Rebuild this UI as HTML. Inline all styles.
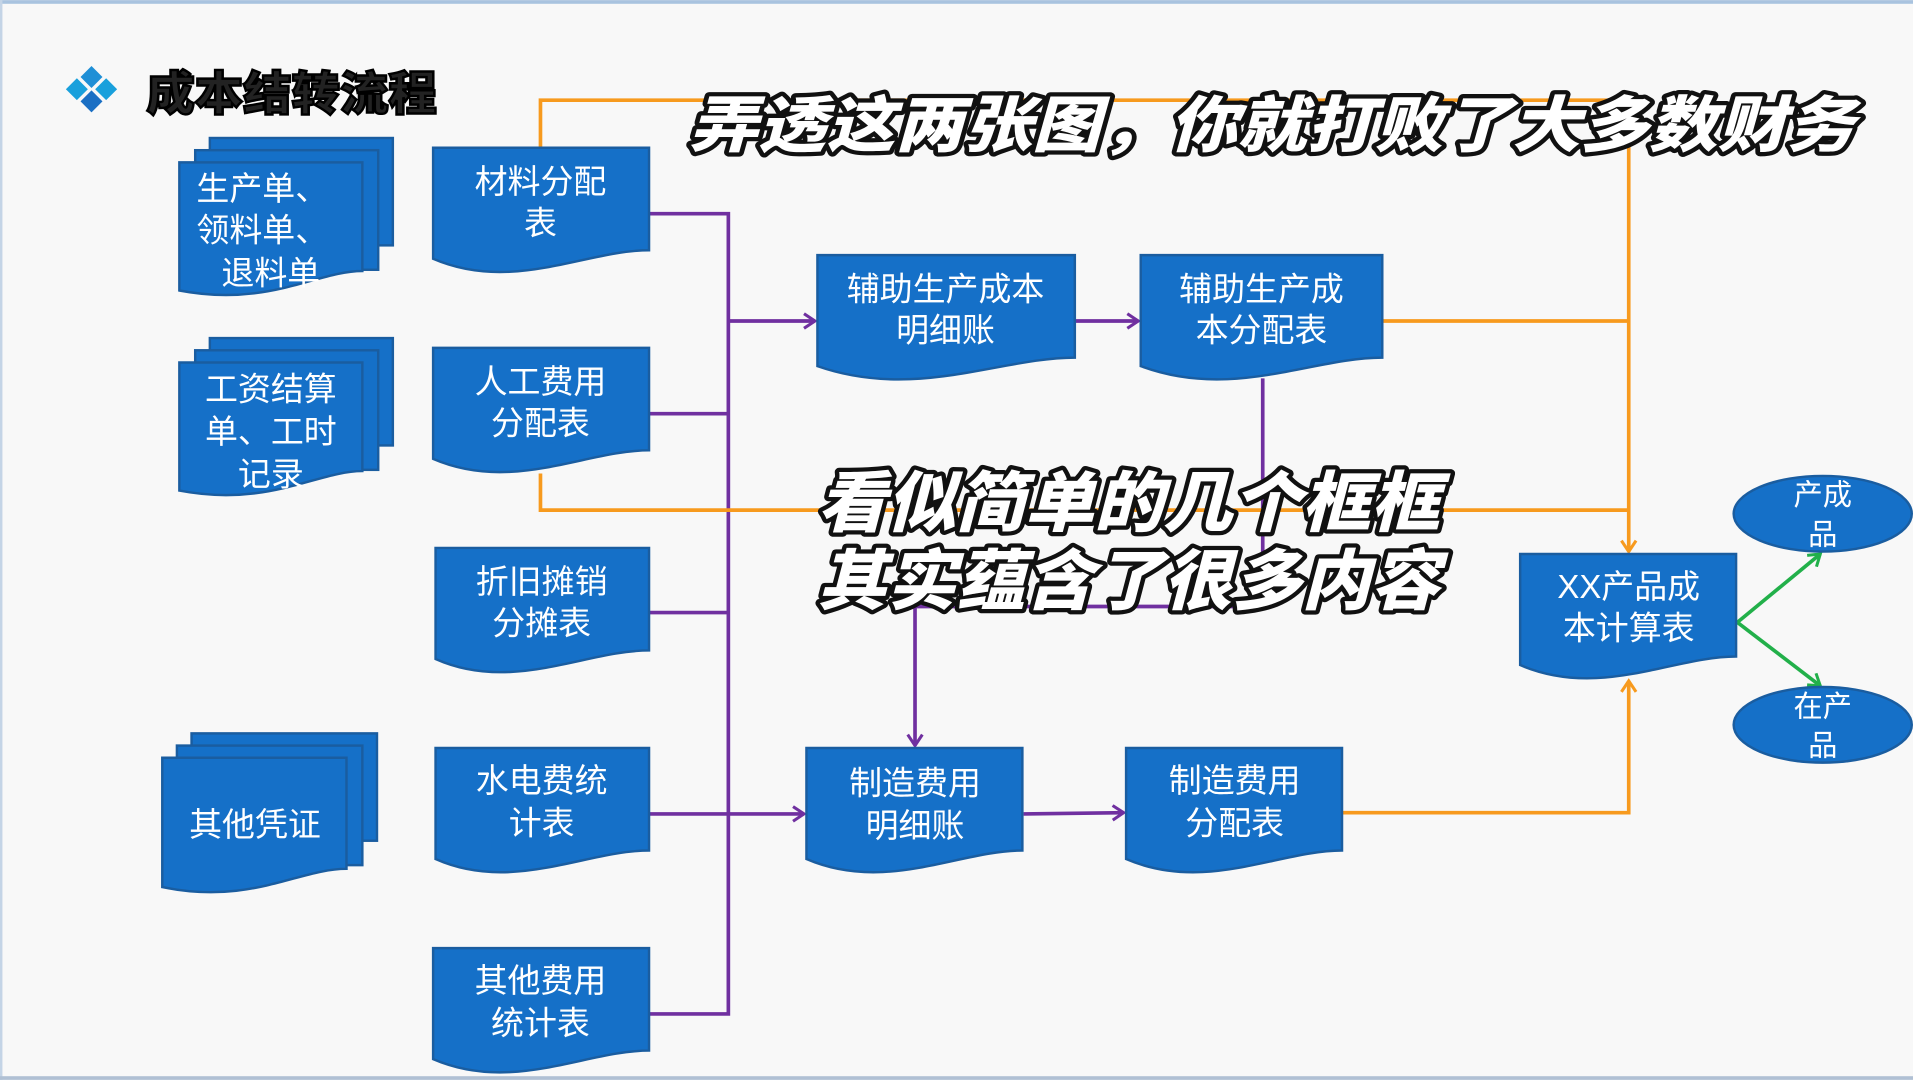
<!DOCTYPE html>
<html><head><meta charset="utf-8"><style>
html,body{margin:0;padding:0;background:#f8f8f8;overflow:hidden}
svg{display:block}
.t{font-family:"Liberation Sans","Noto Sans CJK SC",sans-serif;fill:#fff;font-size:27px;text-anchor:middle}
.o{font-family:"Liberation Sans","Noto Sans CJK SC",sans-serif;font-weight:900;font-style:italic;fill:#fff;stroke:#111;stroke-width:7;paint-order:stroke;stroke-linejoin:round}
</style></head><body>
<svg width="1913" height="1080" viewBox="0 0 1568 885" xmlns="http://www.w3.org/2000/svg">
<defs>
<marker id="ap" markerWidth="14" markerHeight="14" refX="11" refY="7" orient="auto" markerUnits="userSpaceOnUse"><polyline points="2,1 11,7 2,13" fill="none" stroke="#7030a0" stroke-width="2.5"/></marker>
<marker id="ao" markerWidth="14" markerHeight="14" refX="11" refY="7" orient="auto" markerUnits="userSpaceOnUse"><polyline points="2,1 11,7 2,13" fill="none" stroke="#f79a1e" stroke-width="2.5"/></marker>
<marker id="ag" markerWidth="14" markerHeight="14" refX="11" refY="7" orient="auto" markerUnits="userSpaceOnUse"><polyline points="2,1 11,7 2,13" fill="none" stroke="#22b04a" stroke-width="2.5"/></marker>
</defs>
<rect width="1568" height="885" fill="#f8f8f8"/>
<rect x="0" y="0" width="1568" height="3" fill="#a9c3df"/>
<rect x="0" y="0" width="2" height="885" fill="#c4d4e6"/>
<rect x="0" y="882" width="1568" height="3" fill="#b0c0d4"/>

<!-- title -->
<g><path d="M75 54 L84 63 L75 72 L66 63Z" fill="#1f8fd6"/><path d="M63 64 L72 73 L63 82 L54 73Z" fill="#19a0dc"/><path d="M87 64 L96 73 L87 82 L78 73Z" fill="#19a0dc"/><path d="M75 74 L84 83 L75 92 L66 83Z" fill="#1a6fc4"/></g>
<text x="120" y="90" font-family="'Liberation Sans','Noto Sans CJK SC',sans-serif" font-weight="900" font-size="38" fill="#222" stroke="#000" stroke-width="2" textLength="238" lengthAdjust="spacingAndGlyphs">成本结转流程</text>

<!-- connectors -->
<g fill="none" stroke-width="3">
<path d="M532 175 H597 V831 H532" stroke="#7030a0"/>
<path d="M532 339 H597 M532 502 H597" stroke="#7030a0"/>
<path d="M597 263 H668" stroke="#7030a0" marker-end="url(#ap)"/>
<path d="M532 667 H659" stroke="#7030a0" marker-end="url(#ap)"/>
<path d="M881 263 H933" stroke="#7030a0" marker-end="url(#ap)"/>
<path d="M839 667 L921 666" stroke="#7030a0" marker-end="url(#ap)"/>
<path d="M1035 310 V497 H750 V611" stroke="#7030a0" marker-end="url(#ap)"/>
<path d="M443 121 V82 H1335 V452" stroke="#f79a1e" marker-end="url(#ao)"/>
<path d="M1133 263 H1335 M443 388 V418 H1335" stroke="#f79a1e"/>
<path d="M1100 666 H1335 V558" stroke="#f79a1e" marker-end="url(#ao)"/>
<path d="M1424 510 L1492 454" stroke="#22b04a" marker-end="url(#ag)"/>
<path d="M1424 510 L1492 562" stroke="#22b04a" marker-end="url(#ag)"/>
</g>

<!-- documents -->
<g fill="#1570c8" stroke="#1a5da0" stroke-width="2">
<rect x="172" y="113" width="150" height="88"/>
<rect x="160" y="123" width="150" height="98"/>
<path d="M147 133 H297 V222 C260 222 220 252 147 238 Z"/>
<rect x="172" y="277" width="150" height="88"/>
<rect x="160" y="287" width="150" height="98"/>
<path d="M147 297 H297 V386 C260 386 220 416 147 402 Z"/>
<rect x="157" y="601" width="152" height="88"/>
<rect x="145" y="611" width="152" height="98"/>
<path d="M133 621 H284 V712 C245 712 205 742 133 727 Z"/>

<path d="M355 121 H532 V205 C480 205 420 240 355 212 Z"/>
<path d="M355 285 H532 V369 C480 369 420 404 355 376 Z"/>
<path d="M357 449 H532 V533 C480 533 420 568 357 540 Z"/>
<path d="M357 613 H532 V697 C480 697 420 732 357 704 Z"/>
<path d="M355 777 H532 V861 C480 861 420 896 355 868 Z"/>
<path d="M670 209 H881 V293 C820 293 750 328 670 300 Z"/>
<path d="M935 209 H1133 V293 C1075 293 1010 328 935 300 Z"/>
<path d="M661 613 H838 V697 C786 697 726 732 661 704 Z"/>
<path d="M923 613 H1100 V697 C1048 697 988 732 923 704 Z"/>
<path d="M1246 454 H1423 V538 C1371 538 1311 573 1246 545 Z"/>
<ellipse cx="1494" cy="421" rx="73" ry="31"/>
<ellipse cx="1494" cy="594" rx="73" ry="31"/>
</g>

<g class="t">
<text x="215" y="164">生产单、</text><text x="215" y="198">领料单、</text><text x="222" y="233">退料单</text>
<text x="222" y="328">工资结算</text><text x="222" y="363">单、工时</text><text x="222" y="398">记录</text>
<text x="209" y="685">其他凭证</text>
<text x="443" y="158">材料分配</text><text x="443" y="192">表</text>
<text x="443" y="322">人工费用</text><text x="443" y="356">分配表</text>
<text x="444" y="486">折旧摊销</text><text x="444" y="520">分摊表</text>
<text x="444" y="649">水电费统</text><text x="444" y="684">计表</text>
<text x="443" y="813">其他费用</text><text x="443" y="848">统计表</text>
<text x="775" y="246">辅助生产成本</text><text x="775" y="280">明细账</text>
<text x="1034" y="246">辅助生产成</text><text x="1034" y="280">本分配表</text>
<text x="750" y="651">制造费用</text><text x="750" y="686">明细账</text>
<text x="1012" y="649">制造费用</text><text x="1012" y="684">分配表</text>
<text x="1335" y="490">XX产品成</text><text x="1335" y="524">本计算表</text>
<text x="1494" y="414" font-size="24">产成</text><text x="1494" y="446" font-size="24">品</text>
<text x="1494" y="587" font-size="24">在产</text><text x="1494" y="619" font-size="24">品</text>
</g>

<text class="o" x="565" y="120" font-size="50" textLength="955" lengthAdjust="spacingAndGlyphs">弄透这两张图，你就打败了大多数财务</text>
<text class="o" x="670" y="431" font-size="54" textLength="510" lengthAdjust="spacingAndGlyphs">看似简单的几个框框</text>
<text class="o" x="670" y="495" font-size="54" textLength="510" lengthAdjust="spacingAndGlyphs">其实蕴含了很多内容</text>
</svg>
</body></html>
